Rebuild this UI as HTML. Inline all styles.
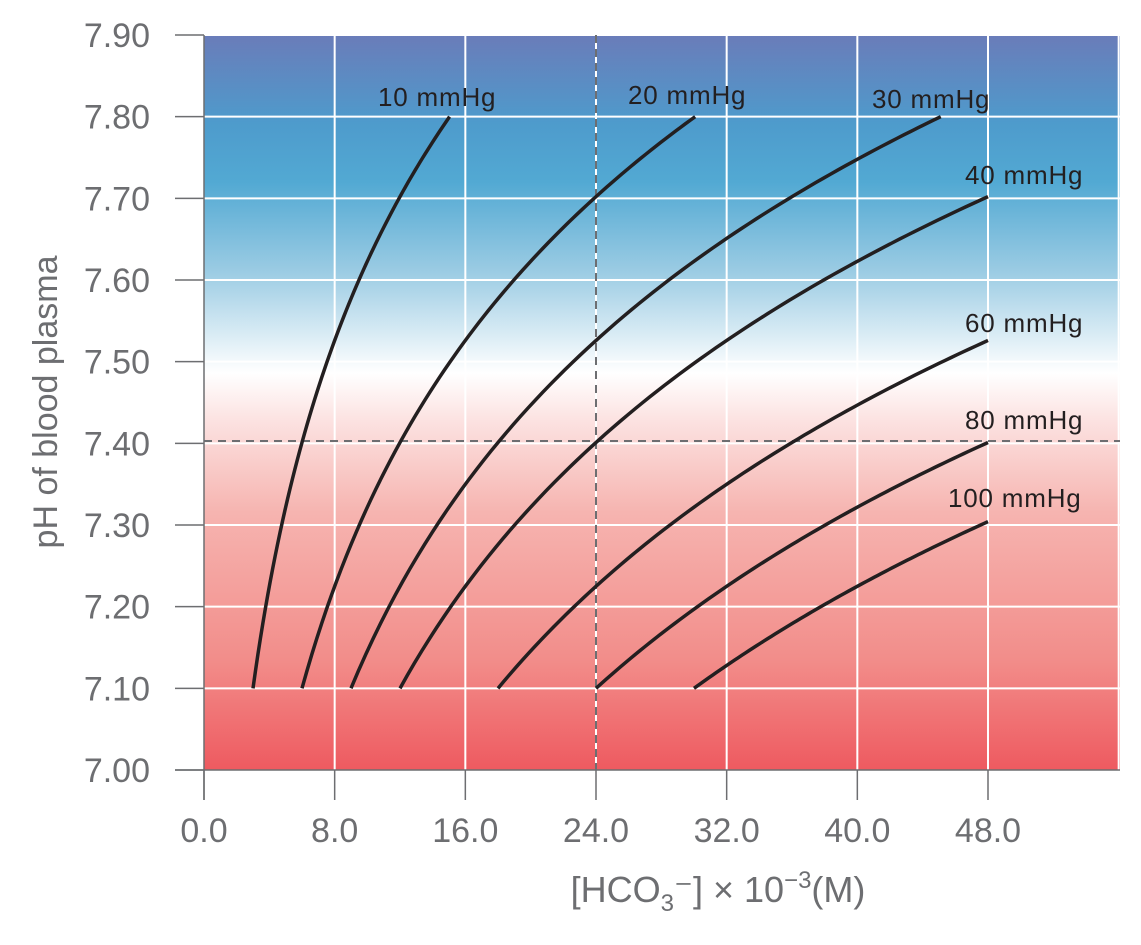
<!DOCTYPE html>
<html><head><meta charset="utf-8"><style>
html,body{margin:0;padding:0;background:#fff;}
svg{display:block;font-family:"Liberation Sans",sans-serif;}
</style></head><body>
<svg id="s" width="1141" height="945" viewBox="0 0 1141 945">
<defs>
<linearGradient id="g" x1="0" y1="0" x2="0" y2="1">
<stop offset="0" stop-color="#6a7cb9"/>
<stop offset="0.12" stop-color="#4e9bcc"/>
<stop offset="0.2" stop-color="#52a9d3"/>
<stop offset="0.32" stop-color="#9acbe3"/>
<stop offset="0.46" stop-color="#ffffff"/>
<stop offset="0.52" stop-color="#fce4e3"/>
<stop offset="0.65" stop-color="#f6b4b0"/>
<stop offset="0.85" stop-color="#f28d8a"/>
<stop offset="1" stop-color="#ee5a60"/>
</linearGradient>
</defs>
<rect x="204" y="35" width="916" height="735" fill="url(#g)"/>
<g id="grid" stroke="#fff" stroke-width="2"></g>
<g stroke="#6d6e71" stroke-width="2" stroke-dasharray="8,6">
<line x1="596" y1="35" x2="596" y2="770"/>
<line x1="204" y1="441" x2="1120" y2="441"/>
</g>
<g id="axes" stroke="#6d6e71" stroke-width="1.5"></g>
<g id="curves" fill="none" stroke="#231f20" stroke-width="3.5"></g>
<g id="lab" fill="#6d6e71" font-size="34"></g>
<g fill="#231f20" font-size="26" letter-spacing="0.8">
<text x="378" y="106">10 mmHg</text>
<text x="628" y="104">20 mmHg</text>
<text x="872" y="108">30 mmHg</text>
<text x="965" y="184">40 mmHg</text>
<text x="965" y="332">60 mmHg</text>
<text x="965" y="429">80 mmHg</text>
<text x="948" y="507">100 mmHg</text>
</g>
<text x="718" y="902" text-anchor="middle" fill="#6d6e71" font-size="36">[HCO<tspan font-size="24" dy="9">3</tspan><tspan dy="-9">⁻] × 10</tspan><tspan font-size="24" dy="-14">−3</tspan><tspan dy="14">(M)</tspan></text>
<text transform="translate(57,402) rotate(-90)" text-anchor="middle" fill="#6d6e71" font-size="34">pH of blood plasma</text>
</svg>
<script>
var NS="http://www.w3.org/2000/svg";
function X(v){return 204+v*784/48;}
function Y(p){return 770-(p-7.0)*735/0.9;}
function el(par,t,a,txt){var e=document.createElementNS(NS,t);for(var k in a)e.setAttribute(k,a[k]);if(txt)e.textContent=txt;document.getElementById(par).appendChild(e);}
for(var i=1;i<=9;i++){el("grid","line",{x1:204,x2:1120,y1:Y(7+i*0.1),y2:Y(7+i*0.1)});}
for(var i=1;i<=7;i++){el("grid","line",{x1:X(i*8),x2:X(i*8),y1:35,y2:770});}
el("axes","line",{x1:204,x2:204,y1:35,y2:800});
el("axes","line",{x1:175,x2:1120,y1:770,y2:770});
for(var i=0;i<=9;i++){var y=Y(7+i*0.1);el("axes","line",{x1:175,x2:204,y1:y,y2:y});el("lab","text",{x:150,y:y+12,"text-anchor":"end"},(7+i*0.1).toFixed(2));}
for(var i=0;i<=6;i++){var x=X(i*8);el("axes","line",{x1:x,x2:x,y1:770,y2:800});el("lab","text",{x:x,y:842,"text-anchor":"middle"},(i*8).toFixed(1));}
[10,20,30,40,60,80,100].forEach(function(p){
 var a=0.03*p,x0=a*Math.pow(10,1.0),x1=Math.min(48,a*Math.pow(10,1.7));
 var d="";for(var j=0;j<=80;j++){var h=x0+(x1-x0)*j/80;var ph=6.1+Math.log10(h/a);d+=(j?"L":"M")+X(h).toFixed(2)+","+Y(ph).toFixed(2);}
 el("curves","path",{d:d});
});
</script>
</body></html>
